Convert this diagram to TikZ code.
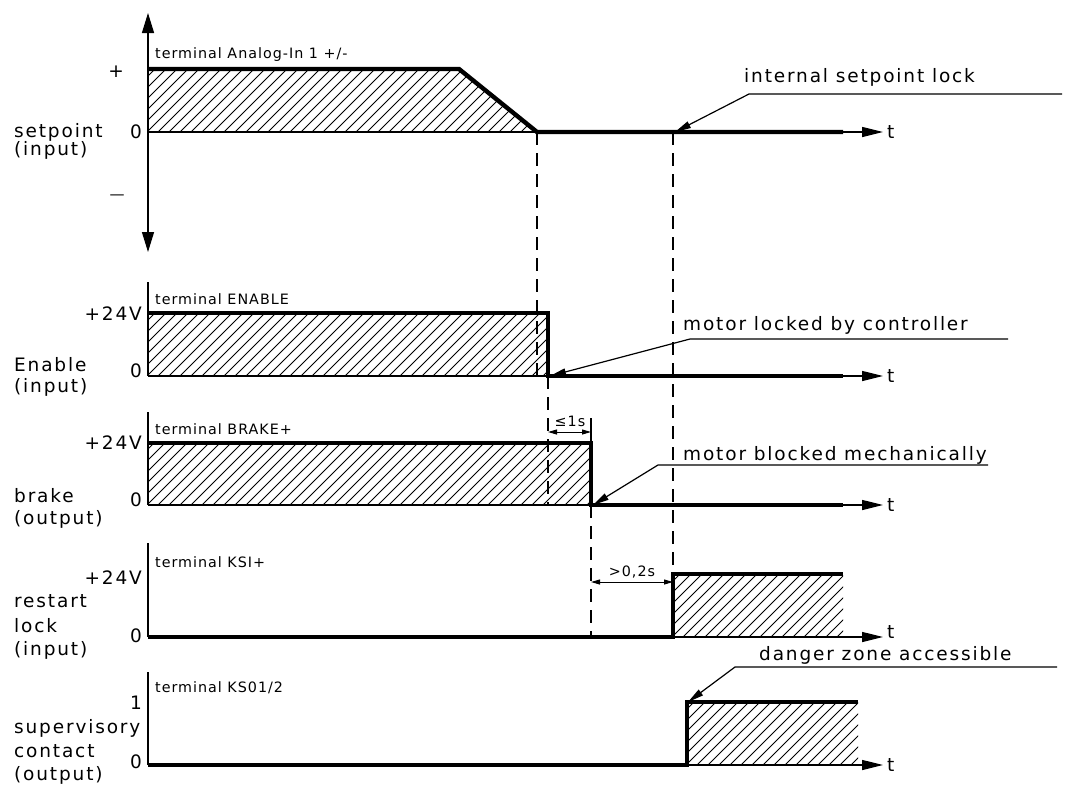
\documentclass[tikz,border=0pt]{standalone}
\usepackage{fontspec}
\setmainfont[LetterSpace=10]{DejaVu Sans}
\newfontfamily\termfont[LetterSpace=7]{DejaVu Sans}
\usetikzlibrary{arrows.meta}
\newcommand\bigtxt{\fontsize{18.5}{21}\selectfont}
\newcommand\smtxt{\termfont\fontsize{14.3}{16}\selectfont}
\newcommand\hatchrect[4]{\begin{scope}\clip (#1,#2) rectangle (#3,#4);
  \foreach \i in {0,...,60}{\draw[hatchln] ({#1-100+11*\i},#4)--++(100,-100);}\end{scope}}
\begin{document}
\begin{tikzpicture}[x=1pt,y=-1pt,
  sig/.style={line width=4.4pt,line join=miter},
  thinln/.style={line width=1.3pt},
  dashln/.style={line width=1.3pt,dash pattern=on 13pt off 8pt},
  hatchln/.style={line width=0.9pt},
  tarr/.style={line width=1.3pt,-{Triangle[length=21pt,width=10pt]}},
  ldr/.style={line width=1.2pt,-{Triangle[length=16pt,width=7pt]}},
  axarr/.style={line width=1.3pt,{Triangle[length=20pt,width=12pt]}-{Triangle[length=20pt,width=12pt]}},
  dimarr/.style={line width=1pt,{Triangle[length=9pt,width=5pt]}-{Triangle[length=9pt,width=5pt]}},
  lab/.style={font=\bigtxt,inner sep=0pt,anchor=base west},
  val/.style={font=\bigtxt,inner sep=0pt,anchor=east},
  term/.style={font=\smtxt,inner sep=0pt,anchor=west},
  tlab/.style={font=\bigtxt,inner sep=0pt,anchor=west}
]
\useasboundingbox (0,0) rectangle (1069,785);

% ---------- coordinates ----------
% row 1 setpoint
\coordinate (a1t) at (148,13);  \coordinate (a1b) at (148,252);
\coordinate (s1a) at (148,69);  \coordinate (s1b) at (459,69);
\coordinate (s1c) at (537,132); \coordinate (s1d) at (843,132);
\coordinate (z1a) at (148,132); \coordinate (t1) at (883,132);
\coordinate (d4a) at (673,132);
% row 2 enable
\coordinate (a2t) at (148,282); \coordinate (z2a) at (148,376);
\coordinate (s2a) at (148,313); \coordinate (s2b) at (548,313);
\coordinate (s2c) at (548,376); \coordinate (s2d) at (843,376);
\coordinate (t2) at (883,376);  \coordinate (d1b) at (537,376);
% row 3 brake
\coordinate (a3t) at (148,412); \coordinate (z3a) at (148,505);
\coordinate (s3a) at (148,443); \coordinate (s3b) at (591,443);
\coordinate (s3c) at (591,505); \coordinate (s3d) at (843,505);
\coordinate (t3) at (883,505);  \coordinate (d2b) at (548,505);
\coordinate (tk1) at (591,418);
\coordinate (m1a) at (548,432); \coordinate (m1b) at (591,432);
% row 4 restart lock
\coordinate (a4t) at (148,543); \coordinate (z4a) at (148,637);
\coordinate (s4b) at (673,637); \coordinate (s4c) at (673,574);
\coordinate (s4d) at (843,574); \coordinate (t4) at (883,637);
\coordinate (m2a) at (591,582); \coordinate (m2b) at (673,582);
% row 5 supervisory
\coordinate (a5t) at (148,672); \coordinate (z5a) at (148,765);
\coordinate (s5b) at (687,765); \coordinate (s5c) at (687,702);
\coordinate (s5d) at (858,702); \coordinate (t5) at (883,765);
% leaders
\coordinate (l1a) at (1062,94); \coordinate (l1b) at (749,94);  \coordinate (l1c) at (675,132);
\coordinate (l2a) at (1008,339);\coordinate (l2b) at (690,339); \coordinate (l2c) at (550,376);
\coordinate (l3a) at (988,465); \coordinate (l3b) at (658,465); \coordinate (l3c) at (593,505);
\coordinate (l4a) at (1057,667);\coordinate (l4b) at (735,667); \coordinate (l4c) at (688,702);

% ---------- hatching ----------
\begin{scope}
  \clip (s1a)--(s1b)--(s1c)--(z1a)--cycle;
  \foreach \i in {0,...,50}{\draw[hatchln] ({48+11*\i},132)--++(100,-100);}
\end{scope}
\hatchrect{148}{313}{548}{376}
\hatchrect{148}{443}{591}{505}
\hatchrect{673}{574}{843}{637}
\hatchrect{687}{702}{858}{765}

% ---------- axes ----------
\draw[axarr] (a1b) -- (a1t);
\draw[thinln] (a2t) -- (z2a);
\draw[thinln] (a3t) -- (z3a);
\draw[thinln] (a4t) -- (z4a);
\draw[thinln] (a5t) -- (z5a);

% ---------- dashed guides ----------
\draw[dashln] (s1c) -- (d1b);
\draw[dashln] (s2c) -- (d2b);
\draw[dashln] (s3c) -- (m2a) -- (s3c |- s4b);
\draw[dashln] (d4a) -- (s4c);
\draw[thinln] (tk1) -- (s3b);

% ---------- thin zero lines and time arrows ----------
\draw[thinln] (z1a) -- (s1c);
\draw[tarr] (s1d) -- (t1);
\draw[thinln] (z2a) -- (s2c);
\draw[tarr] (s2d) -- (t2);
\draw[thinln] (z3a) -- (s3c);
\draw[tarr] (s3d) -- (t3);
\draw[tarr] (s4b) -- (t4);
\draw[tarr] (s5b) -- (t5);

% ---------- signals ----------
\draw[sig] (s1a) -- (s1b) -- (s1c) -- (s1d);
\draw[sig] (s2a) -- (s2b) -- (s2c) -- (s2d);
\draw[sig] (s3a) -- (s3b) -- (s3c) -- (s3d);
\draw[sig] (z4a) -- (s4b) -- (s4c) -- (s4d);
\draw[sig] (z5a) -- (s5b) -- (s5c) -- (s5d);

% ---------- dimensions ----------
\draw[dimarr] (m1a) -- (m1b);
\node[font=\smtxt,inner sep=0pt] (dim1) at (570,421) {≤1s};
\draw[dimarr] (m2a) -- (m2b);
\node[font=\smtxt,inner sep=0pt] (dim2) at (632,572) {>0,2s};

% ---------- leaders ----------
\draw[ldr] (l1a) -- (l1b) -- (l1c);
\draw[ldr] (l2a) -- (l2b) -- (l2c);
\draw[ldr] (l3a) -- (l3b) -- (l3c);
\draw[ldr] (l4a) -- (l4b) -- (l4c);
\node[lab] (c1) at (744,82) {internal setpoint lock};
\node[lab] (c2) at (683,330) {motor locked by controller};
\node[lab] (c3) at (683,460) {motor blocked mechanically};
\node[lab] (c4) at (759,660) {danger zone accessible};

% ---------- t labels ----------
\node[tlab] (tt1) at (887,132) {t};
\node[tlab] (tt2) at (887,376) {t};
\node[tlab] (tt3) at (887,505) {t};
\node[tlab] (tt4) at (887,632) {t};
\node[tlab] (tt5) at (887,765) {t};

% ---------- terminal labels ----------
\node[term] (k1) at (155,55)  {terminal Analog-In 1 +/-};
\node[term] (k2) at (155,299) {terminal ENABLE};
\node[term] (k3) at (155,429) {terminal BRAKE+};
\node[term] (k4) at (155,562) {terminal KSI+};
\node[term] (k5) at (155,688) {terminal KS01/2};

% ---------- value labels ----------
\node[font=\bigtxt,inner sep=0pt] (v1p) at (116,72) {+};
\node[val] (v1z) at (142,132) {0};
\node[font=\fontsize{15}{16}\selectfont,inner sep=0pt] (v1m) at (117,197) {—};
\node[val] (v2p) at (142,314) {+24V};
\node[val] (v2z) at (142,371) {0};
\node[val] (v3p) at (142,443) {+24V};
\node[val] (v3z) at (142,500) {0};
\node[val] (v4p) at (142,578) {+24V};
\node[val] (v4z) at (142,636) {0};
\node[val] (v5p) at (142,703) {1};
\node[val] (v5z) at (142,762) {0};

% ---------- signal names ----------
\node[lab] (n1a) at (14,137) {setpoint};
\node[lab] (n1b) at (14,155) {(input)};
\node[lab] (n2a) at (14,371) {Enable};
\node[lab] (n2b) at (14,392) {(input)};
\node[lab] (n3a) at (14,502) {brake};
\node[lab] (n3b) at (14,524) {(output)};
\node[lab] (n4a) at (14,607) {restart};
\node[lab] (n4b) at (14,632) {lock};
\node[lab] (n4c) at (14,655) {(input)};
\node[lab] (n5a) at (14,733) {supervisory};
\node[lab] (n5b) at (14,757) {contact};
\node[lab] (n5c) at (14,780) {(output)};
\end{tikzpicture}
\end{document}
